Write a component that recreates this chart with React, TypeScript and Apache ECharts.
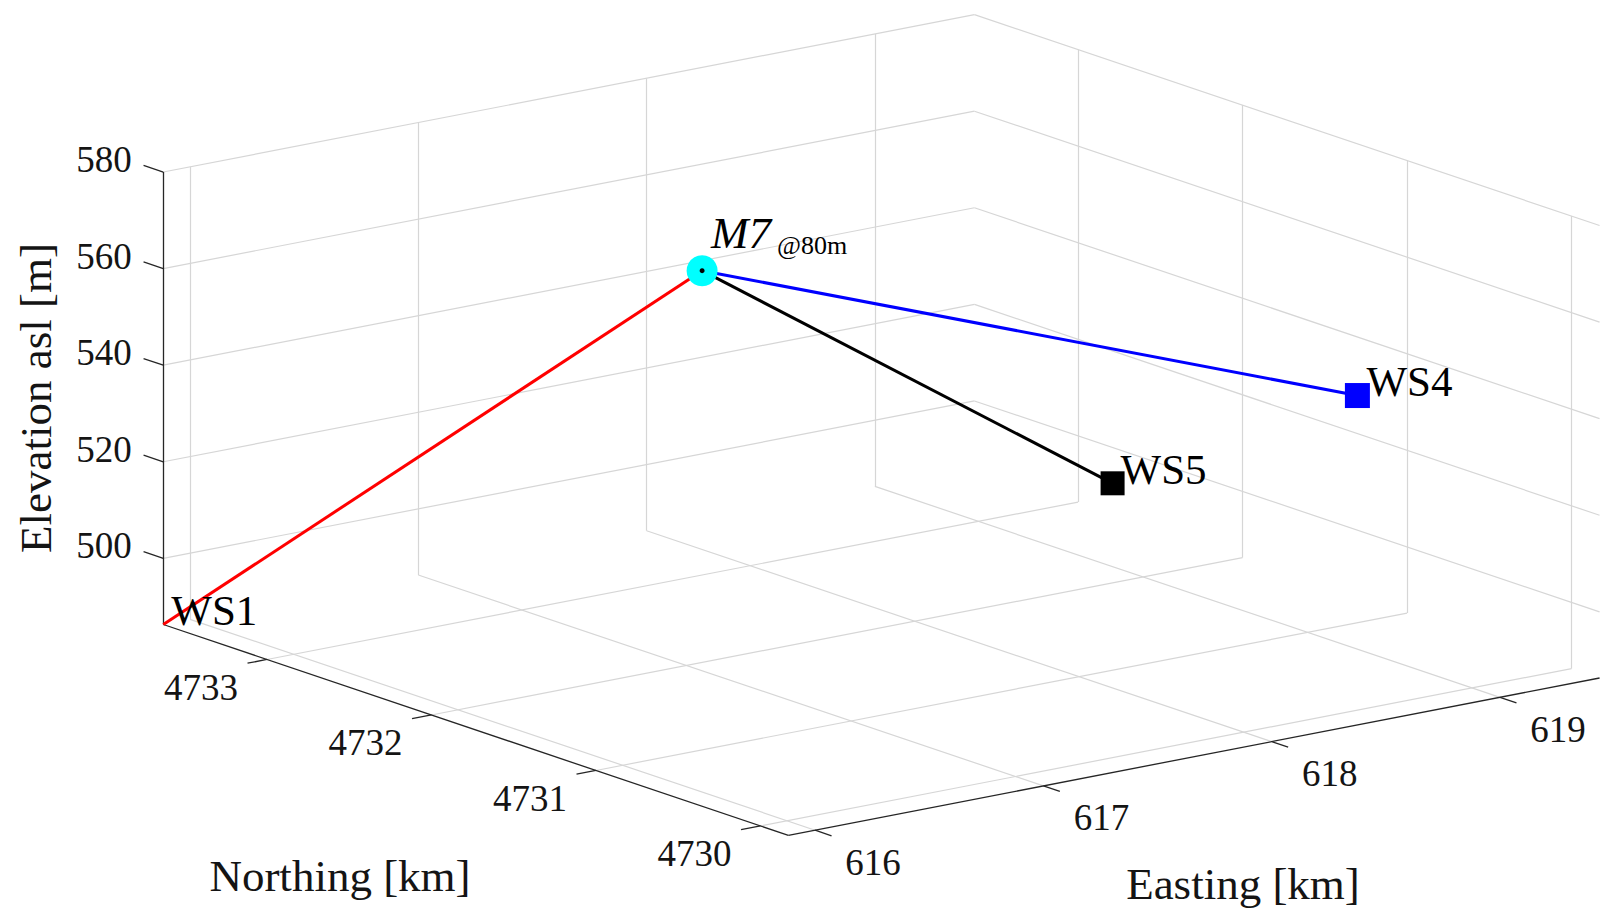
import React, { useEffect, useRef } from "react";
import * as echarts from "echarts";

// ---- axis ticks and limits ----
const eastingTicks = [616, 617, 618, 619];
const northingTicks = [4730, 4731, 4732, 4733];
const elevationTicks = [500, 520, 540, 560, 580];
const eastingRange = [615.883, 619.436];
const northingRange = [4729.83, 4733.63];
const elevationRange = [486.3, 580];

// ---- stations (Easting km, Northing km, Elevation m) ----
const stationNames = ["WS1", "M7", "WS5", "WS4"];
const stationEasting = [615.883, 617.364, 618.6, 619.24];
const stationNorthing = [4733.63, 4732.41, 4731.63, 4731.03];
const stationElevation = [486.3, 560.0, 513.6, 532.8];

// ---- links between stations ----
const linkFrom = ["WS1", "M7", "M7"];
const linkTo = ["M7", "WS5", "WS4"];

// ---- view (orthographic projection, pixels per unit) ----
const VIEW = {
  origin: [163.3, 624.5],
  east: [228.3, -44.3],
  north: [-164.5, -55.5],
  up: [0, -4.829],
};
const LINK_COLORS = ["#ff0000", "#000000", "#0000ff"];
const FONT = "'Liberation Serif', 'DejaVu Serif', serif";
const GRID_COLOR = "#d6d6d6";
const AXIS_COLOR = "#262626";
const TEXT_COLOR = "#141414";

function proj(e: number, n: number, z: number): number[] {
  const de = e - eastingRange[0];
  const dn = n - northingRange[1];
  const dz = z - elevationRange[0];
  return [
    VIEW.origin[0] + de * VIEW.east[0] + dn * VIEW.north[0] + dz * VIEW.up[0],
    VIEW.origin[1] + de * VIEW.east[1] + dn * VIEW.north[1] + dz * VIEW.up[1],
  ];
}

function seg(a: number[], b: number[]) {
  return { coords: [proj(a[0], a[1], a[2]), proj(b[0], b[1], b[2])] };
}

function stationPoint(name: string) {
  const i = stationNames.indexOf(name);
  return proj(stationEasting[i], stationNorthing[i], stationElevation[i]);
}

function buildOption() {
  const [E0, E1] = eastingRange;
  const [N0, N1] = northingRange;
  const [Z0, Z1] = elevationRange;

  const gridSegs: any[] = [];
  // back wall at N = N1
  eastingTicks.forEach((e) => gridSegs.push(seg([e, N1, Z0], [e, N1, Z1])));
  elevationTicks.forEach((z) => gridSegs.push(seg([E0, N1, z], [E1, N1, z])));
  // back wall at E = E1
  northingTicks.forEach((n) => gridSegs.push(seg([E1, n, Z0], [E1, n, Z1])));
  elevationTicks.forEach((z) => gridSegs.push(seg([E1, N0, z], [E1, N1, z])));
  // floor
  eastingTicks.forEach((e) => gridSegs.push(seg([e, N0, Z0], [e, N1, Z0])));
  northingTicks.forEach((n) => gridSegs.push(seg([E0, n, Z0], [E1, n, Z0])));

  const axisSegs: any[] = [
    seg([E0, N1, Z0], [E0, N1, Z1]),
    seg([E0, N0, Z0], [E0, N1, Z0]),
    seg([E0, N0, Z0], [E1, N0, Z0]),
  ];
  elevationTicks.forEach((z) => axisSegs.push(seg([E0, N1, z], [E0, N1 + 0.12, z])));
  northingTicks.forEach((n) => axisSegs.push(seg([E0, n, Z0], [E0 - 0.085, n, Z0])));
  eastingTicks.forEach((e) => axisSegs.push(seg([e, N0, Z0], [e, N0 - 0.1, Z0])));

  const hidden = { color: "rgba(0,0,0,0)", opacity: 1 };

  const tickLabelSeries = (data: any[], offset: number[], align: string) => ({
    type: "scatter",
    symbolSize: 1,
    silent: true,
    itemStyle: hidden,
    z: 5,
    label: {
      show: true,
      position: "inside",
      offset,
      align,
      verticalAlign: "middle",
      formatter: "{b}",
      fontFamily: FONT,
      fontSize: 37,
      color: TEXT_COLOR,
      opacity: 1,
    },
    data,
  });

  const zLabels = elevationTicks.map((z) => ({ name: String(z), value: proj(E0, N1, z) }));
  const nLabels = northingTicks.map((n) => ({ name: String(n), value: proj(E0, n, Z0) }));
  const eLabels = eastingTicks.map((e) => ({ name: String(e), value: proj(e, N0, Z0) }));

  const linkSeries = linkFrom.map((f, i) => ({
    type: "line",
    symbol: "none",
    silent: true,
    z: 6,
    lineStyle: { color: LINK_COLORS[i], width: 3, opacity: 1 },
    data: [stationPoint(f), stationPoint(linkTo[i])],
  }));

  const markerStyle: Record<string, any> = {
    WS1: { symbol: "none", symbolSize: 0, color: "#000" },
    M7: { symbol: "circle", symbolSize: 31, color: "#00ffff" },
    WS5: { symbol: "rect", symbolSize: 24, color: "#000000" },
    WS4: { symbol: "rect", symbolSize: 25, color: "#0000ff" },
  };
  const markerData = stationNames
    .filter((n) => markerStyle[n].symbol !== "none")
    .map((n) => ({
      name: n,
      value: stationPoint(n),
      symbol: markerStyle[n].symbol,
      symbolSize: markerStyle[n].symbolSize,
      itemStyle: { color: markerStyle[n].color, opacity: 1 },
    }));

  const labelOffset: Record<string, number[]> = {
    WS1: [8, -14],
    WS5: [8, -14],
    WS4: [9, -14],
    M7: [9, -38],
  };
  const stationLabels = stationNames.map((n) => ({
    name: n,
    value: stationPoint(n),
    label: {
      offset: labelOffset[n],
      fontStyle: n === "M7" ? "italic" : "normal",
      fontSize: n === "M7" ? 45 : 43,
    },
  }));

  const title = (text: string, x: number, y: number, rotation = 0) => ({
    type: "text",
    x,
    y,
    rotation,
    style: {
      text,
      fontFamily: FONT,
      fontSize: 45,
      fill: TEXT_COLOR,
      align: "center",
      verticalAlign: "middle",
    },
  });

  return {
    animation: false,
    backgroundColor: "#ffffff",
    grid: { left: 0, top: 0, right: 0, bottom: 0, containLabel: false },
    xAxis: { type: "value", min: 0, max: 1600, show: false },
    yAxis: { type: "value", min: 0, max: 911, inverse: true, show: false },
    graphic: [
      title("Elevation asl [m]", 35.5, 398, Math.PI / 2),
      title("Northing [km]", 340, 876),
      title("Easting [km]", 1243, 884),
    ],
    series: [
      {
        type: "lines",
        coordinateSystem: "cartesian2d",
        silent: true,
        z: 1,
        lineStyle: { color: GRID_COLOR, width: 1.2, opacity: 1, curveness: 0 },
        data: gridSegs,
      },
      {
        type: "lines",
        coordinateSystem: "cartesian2d",
        silent: true,
        z: 2,
        lineStyle: { color: AXIS_COLOR, width: 1.3, opacity: 1, curveness: 0 },
        data: axisSegs,
      },
      tickLabelSeries(zLabels, [-31.6, -12.4], "right"),
      tickLabelSeries(nLabels, [-66, 28], "center"),
      tickLabelSeries(eLabels, [58, 32], "center"),
      ...linkSeries,
      {
        type: "scatter",
        silent: true,
        z: 7,
        itemStyle: { opacity: 1 },
        data: markerData,
      },
      {
        type: "scatter",
        silent: true,
        z: 8,
        symbol: "circle",
        symbolSize: 5,
        itemStyle: { color: "#000000", opacity: 1 },
        data: [{ name: "M7", value: stationPoint("M7") }],
      },
      {
        type: "scatter",
        silent: true,
        z: 9,
        symbolSize: 1,
        itemStyle: hidden,
        label: {
          show: true,
          position: "inside",
          align: "left",
          verticalAlign: "middle",
          formatter: "{b}",
          fontFamily: FONT,
          color: "#000000",
          opacity: 1,
        },
        data: stationLabels,
      },
      {
        type: "scatter",
        silent: true,
        z: 9,
        symbolSize: 1,
        itemStyle: hidden,
        label: {
          show: true,
          position: "inside",
          align: "left",
          verticalAlign: "middle",
          offset: [75, -25],
          formatter: "{b}",
          fontFamily: FONT,
          fontSize: 26,
          color: "#000000",
          opacity: 1,
        },
        data: [{ name: "@80m", value: stationPoint("M7") }],
      },
    ],
  };
}

export default function App() {
  const ref = useRef<HTMLDivElement>(null);
  useEffect(() => {
    if (!ref.current) return;
    const chart = echarts.init(ref.current, undefined, { renderer: "svg" });
    chart.setOption(buildOption() as any);
    return () => chart.dispose();
  }, []);
  return (
    <div
      ref={ref}
      style={{ position: "absolute", left: 0, top: 0, width: 1600, height: 911, background: "#fff" }}
    />
  );
}
